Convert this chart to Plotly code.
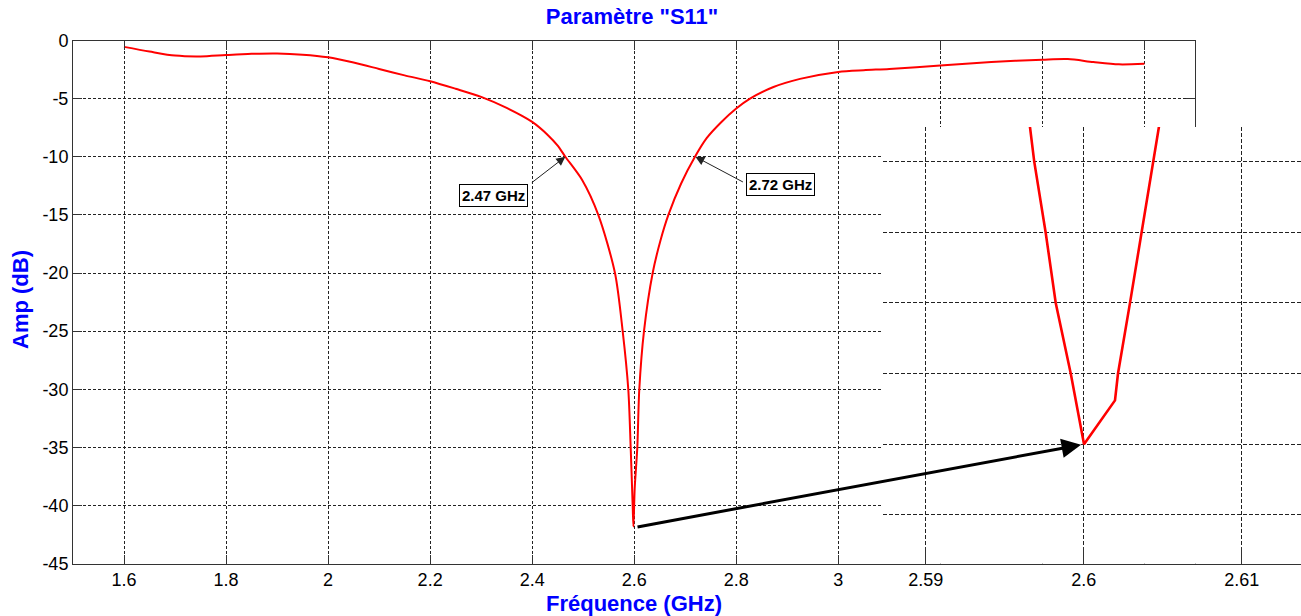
import plotly.graph_objects as go

# ---------------- data ----------------
freq_main = [1.60, 1.65, 1.70, 1.75, 1.80, 1.85, 1.90, 1.95, 2.00, 2.05, 2.10, 2.15,
             2.20, 2.25, 2.30, 2.35, 2.40, 2.43, 2.45, 2.465, 2.498, 2.5296, 2.5623,
             2.5774, 2.5884, 2.5931, 2.5970, 2.5985, 2.6010, 2.6061, 2.6100, 2.6192, 2.6362,
             2.6515, 2.667, 2.692, 2.7191, 2.742, 2.77, 2.80, 2.827, 2.873, 2.925, 3.00, 3.05,
             3.10, 3.20, 3.30, 3.40, 3.45, 3.50, 3.55, 3.60]
s11_main = [-0.55, -0.95, -1.30, -1.37, -1.25, -1.15, -1.12, -1.22, -1.45, -1.90, -2.45, -3.00,
            -3.50, -4.15, -4.85, -5.80, -7.00, -8.10, -9.05, -10.0, -12.0, -15.0, -20.0,
            -25.0, -30.0, -35.0, -40.0, -41.8, -38.5, -35.0, -30.0, -25.0, -20.0,
            -17.2, -15.0, -12.3, -10.0, -8.40, -7.05, -5.85, -5.00, -4.00, -3.30, -2.70, -2.55,
            -2.45, -2.15, -1.85, -1.65, -1.60, -1.85, -2.05, -2.00]

freq_zoom = [2.59654, 2.59687, 2.59759, 2.59823, 2.59918, 2.60002,
             2.60198, 2.60217, 2.60293, 2.60367, 2.60445, 2.60484]
s11_zoom = [-12.0, -15.0, -20.0, -25.0, -30.0, -35.0,
            -31.9, -30.0, -25.0, -20.0, -15.0, -12.0]

x_tickvals = [1.6, 1.8, 2.0, 2.2, 2.4, 2.6, 2.8, 3.0, 3.2, 3.4, 3.6]
x_ticktext = ["1.6", "1.8", "2", "2.2", "2.4", "2.6", "2.8", "3", "", "", ""]
y_tickvals = [0, -5, -10, -15, -20, -25, -30, -35, -40, -45]
y_ticktext = ["0", "-5", "-10", "-15", "-20", "-25", "-30", "-35", "-40", "-45"]
zx_tickvals = [2.59, 2.60, 2.61]
zx_ticktext = ["2.59", "2.6", "2.61"]
zy_tickvals = [-40, -35, -30, -25, -20, -15]

marker_labels = ["2.47 GHz", "2.72 GHz"]
marker_freqs = [2.465, 2.72]
marker_levels = [-10, -10]
label_pos_x = [2.3238, 2.8873]
label_pos_y = [-13.36, -12.41]

FONT = "Liberation Sans, Arial, sans-serif"
W, H = 1301, 616

fig = go.Figure()
fig.add_trace(go.Scatter(x=freq_main, y=s11_main, mode="lines",
                         line=dict(color="#ff0000", width=2, shape="spline", smoothing=0.8),
                         xaxis="x", yaxis="y", showlegend=False, hoverinfo="skip"))
fig.add_trace(go.Scatter(x=freq_zoom, y=s11_zoom, mode="lines",
                         line=dict(color="#ff0000", width=2.6), xaxis="x2", yaxis="y2",
                         showlegend=False, hoverinfo="skip"))

grid_main = dict(showgrid=True, gridcolor="#222", gridwidth=1, griddash="3px,2px")
tickfont = dict(family=FONT, size=18, color="#000")

main_bottom = 1 - 563.7 / H
main_top = 1 - 40.5 / H

fig.update_layout(
    width=W, height=H,
    margin=dict(l=0, r=0, t=0, b=0, autoexpand=False),
    paper_bgcolor="white", plot_bgcolor="white",
    font=dict(family=FONT, color="#000"),
    xaxis=dict(domain=[73 / W, 1195.4 / W], range=[1.5, 3.7], tickmode="array",
               tickvals=x_tickvals, ticktext=x_ticktext, ticks="inside", ticklen=9,
               tickcolor="#333", showline=True, linecolor="#333", linewidth=1,
               mirror="ticks", zeroline=False, tickfont=tickfont, anchor="y", **grid_main),
    yaxis=dict(domain=[main_bottom, main_top], range=[-45, 0], tickmode="array",
               tickvals=y_tickvals, ticktext=y_ticktext, ticks="inside", ticklen=9,
               tickcolor="#333", showline=True, linecolor="#333", linewidth=1,
               mirror="ticks", zeroline=False, tickfont=tickfont, anchor="x", **grid_main),
    xaxis2=dict(domain=[883 / W, 1.0], range=[2.58730, 2.61375], tickmode="array",
                tickvals=zx_tickvals, ticktext=zx_ticktext, ticks="inside", ticklen=17,
                tickcolor="#333", showline=True, linecolor="#333", linewidth=1,
                mirror=False, zeroline=False, tickfont=tickfont, anchor="y2",
                showgrid=True, gridcolor="#222", gridwidth=1, griddash="4px,2px"),
    yaxis2=dict(domain=[main_bottom, 1 - 127 / H], range=[-43.46, -12.55], tickmode="array",
                tickvals=zy_tickvals, showticklabels=False, ticks="", showline=False,
                zeroline=False, anchor="x2",
                showgrid=True, gridcolor="#222", gridwidth=1, griddash="4px,2px"),
    title=dict(text='Paramètre "S11"', x=632 / W, xanchor="center", xref="paper",
               y=1 - 16 / H, yanchor="middle", yref="paper",
               font=dict(family=FONT, size=22, color="#0000ff", weight="bold")),
)

annotations = [
    dict(text="Fréquence (GHz)", xref="paper", yref="paper", x=634 / W, y=1 - 603 / H,
         xanchor="center", yanchor="middle", showarrow=False,
         font=dict(family=FONT, size=22, color="#0000ff", weight="bold")),
    dict(text="Amp (dB)", xref="paper", yref="paper", x=20 / W, y=1 - 300 / H,
         xanchor="center", yanchor="middle", showarrow=False, textangle=-90,
         font=dict(family=FONT, size=22, color="#0000ff", weight="bold")),
]

# annotation boxes
for txt, lx, ly in zip(marker_labels, label_pos_x, label_pos_y):
    annotations.append(dict(text=txt, xref="x", yref="y", x=lx, y=ly, showarrow=False,
                            bordercolor="#000", borderwidth=1, bgcolor="white", borderpad=2,
                            font=dict(family=FONT, size=15, color="#000", weight="bold")))
# thin arrows to the -10 dB points
arrow_offsets = [(-35, 27), (49, 26)]
for fx, fy, (axp, ayp) in zip(marker_freqs, marker_levels, arrow_offsets):
    annotations.append(dict(text="", xref="x", yref="y", x=fx, y=fy, ax=axp, ay=ayp,
                            showarrow=True, arrowhead=2, arrowsize=1.8, arrowwidth=1,
                            arrowcolor="#222", standoff=0, startstandoff=0))
# big arrow from main minimum to inset minimum
annotations.append(dict(text="", xref="x2", yref="y2", x=freq_zoom[5], y=s11_zoom[5],
                        ax=-448, ay=83, showarrow=True, arrowhead=2, arrowsize=1.3,
                        arrowwidth=3, arrowcolor="#000", standoff=3, startstandoff=0))

fig.update_layout(annotations=annotations)
fig.write_html("out.html")
